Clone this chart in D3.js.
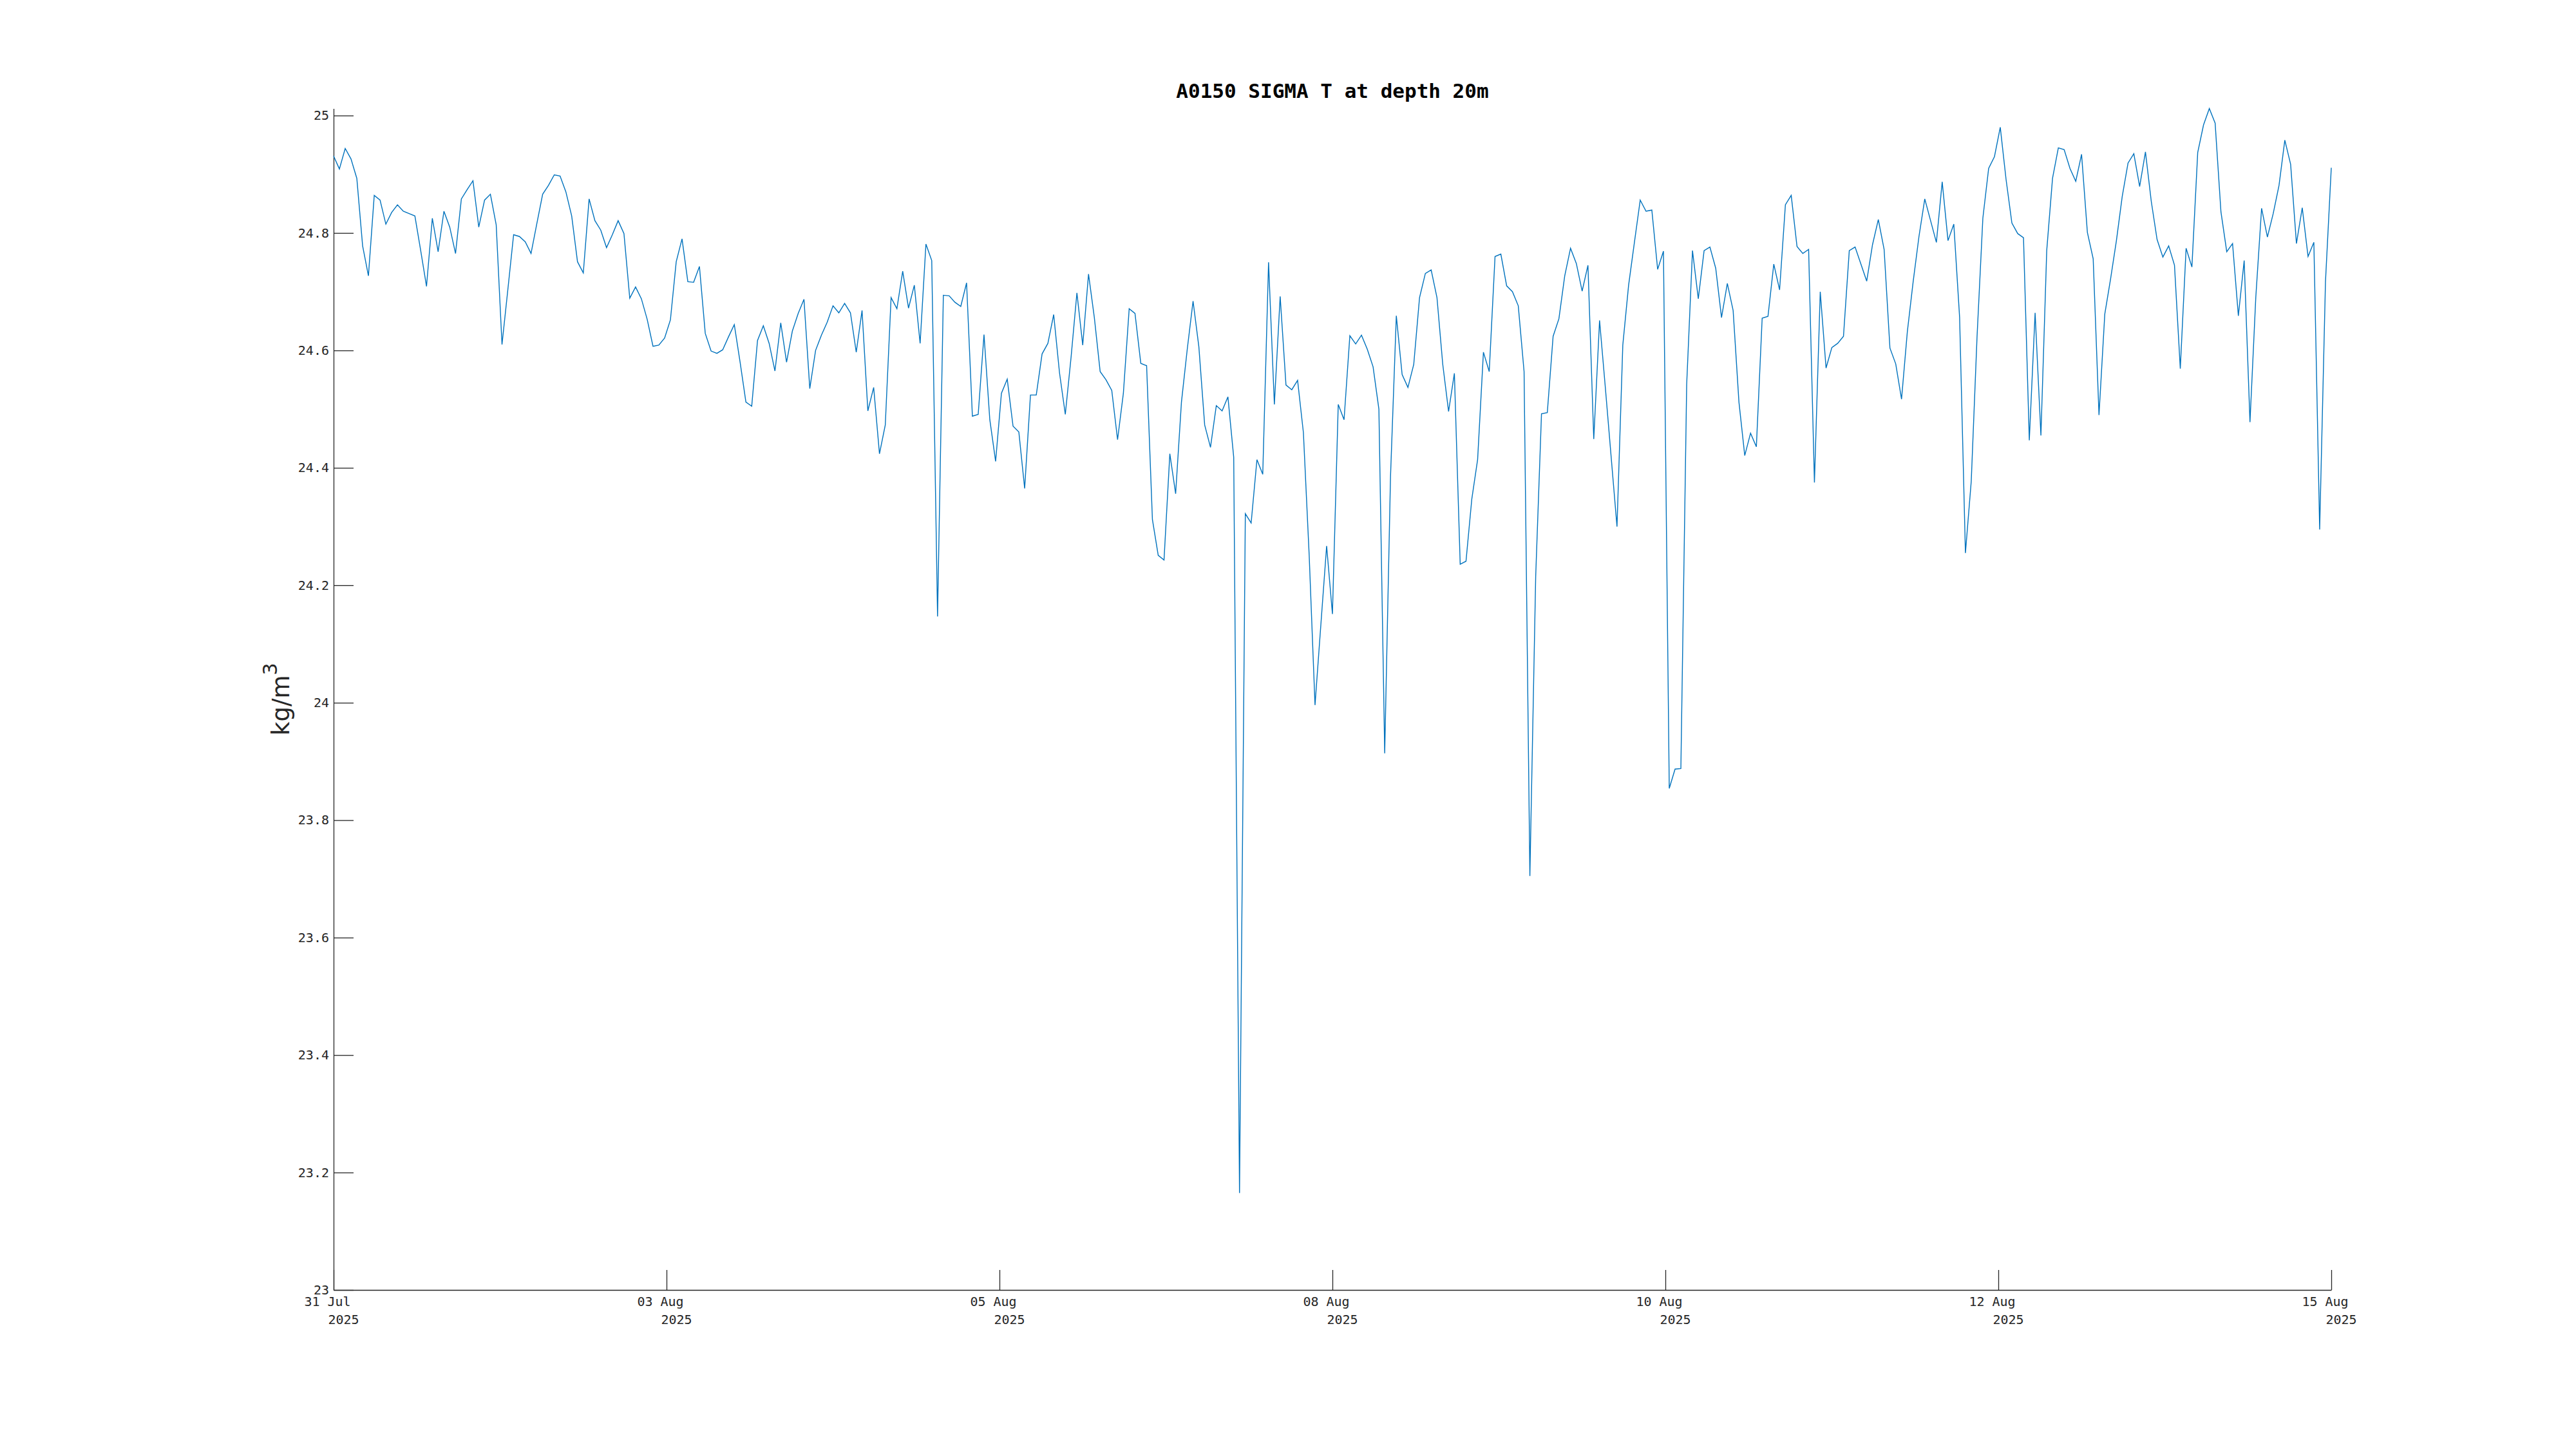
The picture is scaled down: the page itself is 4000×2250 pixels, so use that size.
<!DOCTYPE html>
<html>
<head>
<meta charset="utf-8">
<script src="https://cdn.jsdelivr.net/npm/d3@7"></script>
<style>
  body { margin: 0; background: #fff; }
  svg text { fill: #262626; }
</style>
</head>
<body>
<svg id="chart" width="4000" height="2250"></svg>
<script>
// hourly samples, first one at 31 Jul 2025 21:00 UTC
var startTime = Date.UTC(2025, 6, 31, 21, 0, 0);
var stepHours = 1;

var sigmaT = [
  24.931, 24.909, 24.944, 24.926, 24.893, 24.778, 24.727, 24.864, 24.856, 24.815,
  24.835, 24.848, 24.837, 24.833, 24.829, 24.770, 24.709, 24.825, 24.768, 24.837,
  24.810, 24.765, 24.858, 24.874, 24.889, 24.810, 24.856, 24.866, 24.814, 24.610,
  24.703, 24.797, 24.794, 24.785, 24.765, 24.816, 24.866, 24.881, 24.899, 24.897,
  24.870, 24.829, 24.751, 24.732, 24.858, 24.821, 24.805, 24.775, 24.797, 24.821,
  24.799, 24.689, 24.708, 24.688, 24.653, 24.607, 24.609, 24.621, 24.652, 24.751,
  24.790, 24.717, 24.716, 24.743, 24.629, 24.599, 24.595, 24.601, 24.623, 24.644,
  24.580, 24.512, 24.505, 24.617, 24.642, 24.612, 24.565, 24.647, 24.580, 24.633,
  24.663, 24.687, 24.535, 24.600, 24.626, 24.648, 24.676, 24.664, 24.680, 24.664,
  24.597, 24.668, 24.497, 24.537, 24.424, 24.473, 24.690, 24.671, 24.735, 24.672,
  24.711, 24.612, 24.781, 24.753, 24.147, 24.694, 24.693, 24.682, 24.675, 24.715,
  24.488, 24.491, 24.627, 24.482, 24.411, 24.527, 24.551, 24.471, 24.461, 24.365,
  24.524, 24.524, 24.594, 24.612, 24.661, 24.562, 24.491, 24.589, 24.698, 24.609,
  24.730, 24.656, 24.564, 24.550, 24.532, 24.448, 24.527, 24.671, 24.663, 24.578,
  24.574, 24.312, 24.251, 24.243, 24.424, 24.356, 24.512, 24.602, 24.684, 24.606,
  24.473, 24.435, 24.506, 24.497, 24.521, 24.418, 23.165, 24.322, 24.306, 24.414,
  24.389, 24.750, 24.508, 24.692, 24.541, 24.533, 24.549, 24.460, 24.250, 23.996,
  24.132, 24.267, 24.151, 24.508, 24.482, 24.625, 24.611, 24.626, 24.602, 24.572,
  24.500, 23.914, 24.385, 24.659, 24.559, 24.537, 24.576, 24.690, 24.731, 24.737,
  24.690, 24.576, 24.496, 24.561, 24.236, 24.241, 24.347, 24.414, 24.597, 24.564,
  24.760, 24.764, 24.710, 24.700, 24.676, 24.564, 23.705, 24.215, 24.492, 24.494,
  24.624, 24.654, 24.727, 24.774, 24.748, 24.701, 24.745, 24.449, 24.651, 24.536,
  24.418, 24.300, 24.609, 24.711, 24.784, 24.856, 24.837, 24.839, 24.738, 24.769,
  23.854, 23.887, 23.888, 24.542, 24.770, 24.688, 24.770, 24.776, 24.740, 24.656,
  24.714, 24.668, 24.512, 24.421, 24.459, 24.436, 24.655, 24.658, 24.747, 24.703,
  24.848, 24.864, 24.777, 24.765, 24.772, 24.375, 24.700, 24.570, 24.605, 24.612,
  24.624, 24.770, 24.776, 24.747, 24.718, 24.780, 24.823, 24.772, 24.604, 24.577,
  24.517, 24.632, 24.717, 24.794, 24.858, 24.821, 24.784, 24.887, 24.787, 24.815,
  24.656, 24.255, 24.377, 24.623, 24.825, 24.910, 24.930, 24.980, 24.891, 24.817,
  24.799, 24.792, 24.447, 24.664, 24.455, 24.770, 24.893, 24.945, 24.942, 24.910,
  24.888, 24.934, 24.801, 24.756, 24.490, 24.662, 24.722, 24.787, 24.862, 24.919,
  24.935, 24.879, 24.938, 24.854, 24.789, 24.759, 24.778, 24.745, 24.569, 24.774,
  24.742, 24.937, 24.984, 25.012, 24.987, 24.836, 24.768, 24.782, 24.659, 24.753,
  24.478, 24.690, 24.842, 24.793, 24.833, 24.881, 24.958, 24.917, 24.782, 24.843,
  24.760, 24.784, 24.295, 24.717, 24.911
];

var xTickDays = ["31 Jul", "03 Aug", "05 Aug", "08 Aug", "10 Aug", "12 Aug", "15 Aug"];
var xTickYears = ["2025", "2025", "2025", "2025", "2025", "2025", "2025"];
var yTickValues = [23, 23.2, 23.4, 23.6, 23.8, 24, 24.2, 24.4, 24.6, 24.8, 25];

var titleText = "A0150 SIGMA T at depth 20m";

var points = sigmaT.map(function(v, i) {
  return { t: new Date(startTime + i * stepHours * 3600 * 1000), v: v };
});

var svg = d3.select("#chart");

var left = 518, right = 3620, bottom = 2003;
var pxPerUnit = 911.8;   // vertical pixels for 1 kg/m3
var yMin = 23, yMax = d3.max(sigmaT);

var x = d3.scaleUtc()
    .domain(d3.extent(points, function(d) { return d.t; }))
    .range([left, right]);

var y = d3.scaleLinear()
    .domain([yMin, yMax])
    .range([bottom, bottom - pxPerUnit * (yMax - yMin)]);

// x ticks: seven evenly spaced over the data span
var t0 = x.domain()[0].getTime(), t1 = x.domain()[1].getTime();
var xTickValues = xTickDays.map(function(d, i) {
  return new Date(t0 + i * (t1 - t0) / (xTickDays.length - 1));
});

var monoFont = "'DejaVu Sans Mono', monospace";

// y axis
var yAxis = svg.append("g")
    .attr("transform", "translate(" + left + ",0)")
    .call(d3.axisLeft(y)
      .tickValues(yTickValues)
      .tickSizeInner(-31)
      .tickSizeOuter(0)
      .tickPadding(7)
      .tickFormat(function(d) { return String(+d.toFixed(1)); }));

yAxis.selectAll("text")
    .style("font-family", monoFont)
    .style("font-size", "20px")
    .attr("fill", "#262626");

// x axis
var xAxis = svg.append("g")
    .attr("transform", "translate(0," + bottom + ")")
    .call(d3.axisBottom(x)
      .tickValues(xTickValues)
      .tickSizeInner(-31)
      .tickSizeOuter(0)
      .tickFormat(""));

xAxis.selectAll(".tick").each(function(d, i) {
  var tick = d3.select(this);
  tick.append("text")
      .attr("x", -10)
      .attr("y", 25)
      .attr("text-anchor", "middle")
      .style("font-family", monoFont)
      .style("font-size", "20px")
      .attr("fill", "#262626")
      .text(xTickDays[i]);
  tick.append("text")
      .attr("x", 15)
      .attr("y", 53)
      .attr("text-anchor", "middle")
      .style("font-family", monoFont)
      .style("font-size", "20px")
      .attr("fill", "#262626")
      .text(xTickYears[i]);
});

svg.selectAll(".domain, .tick line")
    .attr("stroke", "#262626")
    .attr("stroke-width", 1.3);

// the series
var line = d3.line()
    .x(function(d) { return x(d.t); })
    .y(function(d) { return y(d.v); });

svg.append("path")
    .datum(points)
    .attr("fill", "none")
    .attr("stroke", "#0072BD")
    .attr("stroke-width", 1.4)
    .attr("stroke-linejoin", "miter")
    .attr("d", line);

// title
svg.append("text")
    .attr("x", (left + right) / 2)
    .attr("y", 152)
    .attr("text-anchor", "middle")
    .style("font-family", monoFont)
    .style("font-size", "31px")
    .style("font-weight", "bold")
    .style("fill", "#000")
    .text(titleText);

// y label
var yLabel = svg.append("text")
    .attr("transform", "translate(449," + ((y.range()[0] + y.range()[1]) / 2) + ") rotate(-90)")
    .attr("text-anchor", "middle")
    .style("font-family", "'DejaVu Sans', sans-serif")
    .style("font-size", "37px");
yLabel.append("tspan").text("kg/m");
yLabel.append("tspan")
    .attr("dy", -19)
    .style("font-size", "30px")
    .text("3");
</script>
</body>
</html>
